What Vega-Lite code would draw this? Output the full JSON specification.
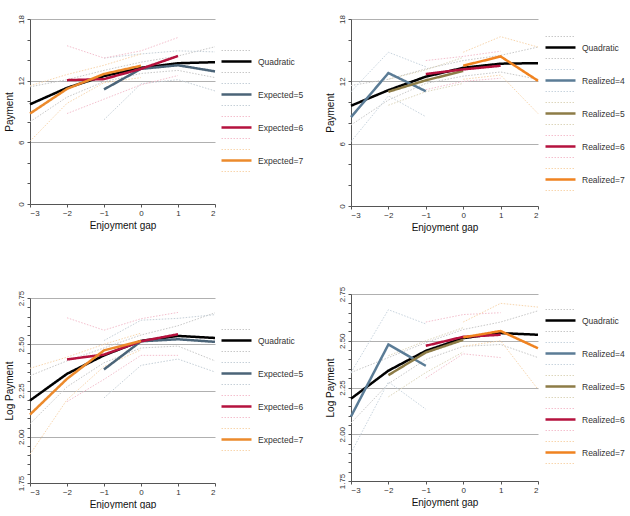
{
  "$schema": "https://vega.github.io/schema/vega-lite/v6.json",
  "background": "white",
  "padding": {"left": 4, "top": 14, "right": 0, "bottom": 0},
  "config": {
    "font": "Liberation Sans",
    "view": {"stroke": null},
    "axis": {"domainColor": "#555555", "tickColor": "#555555", "labelColor": "#333333", "titleColor": "#111111", "titleFontWeight": "normal", "titleFontSize": 10, "labelFontSize": 8, "tickSize": 3, "gridColor": "#b0b0b0", "gridWidth": 1},
    "legend": {"title": null, "orient": "none", "symbolType": "stroke", "symbolSize": 900, "labelFontSize": 8.5, "labelColor": "#333333", "rowPadding": 0, "clipHeight": 11, "labelOffset": 5, "padding": 0}
  },
  "datasets": {
    "d1": [
      {"x": -3, "y": 9.7, "s": "Quadratic"}, {"x": -2, "y": 11.3, "s": "Quadratic"}, {"x": -1, "y": 12.45, "s": "Quadratic"}, {"x": 0, "y": 13.25, "s": "Quadratic"}, {"x": 1, "y": 13.7, "s": "Quadratic"}, {"x": 2, "y": 13.8, "s": "Quadratic"},
      {"x": -3, "y": 11.4, "s": "Quadratic|hi"}, {"x": -2, "y": 12.1, "s": "Quadratic|hi"}, {"x": -1, "y": 13.0, "s": "Quadratic|hi"}, {"x": 0, "y": 13.8, "s": "Quadratic|hi"}, {"x": 1, "y": 14.4, "s": "Quadratic|hi"}, {"x": 2, "y": 15.3, "s": "Quadratic|hi"},
      {"x": -3, "y": 8.0, "s": "Quadratic|lo"}, {"x": -2, "y": 10.4, "s": "Quadratic|lo"}, {"x": -1, "y": 11.9, "s": "Quadratic|lo"}, {"x": 0, "y": 12.7, "s": "Quadratic|lo"}, {"x": 1, "y": 13.0, "s": "Quadratic|lo"}, {"x": 2, "y": 12.3, "s": "Quadratic|lo"},
      {"x": -1, "y": 11.15, "s": "Expected=5"}, {"x": 0, "y": 13.15, "s": "Expected=5"}, {"x": 1, "y": 13.5, "s": "Expected=5"}, {"x": 2, "y": 12.9, "s": "Expected=5"},
      {"x": -1, "y": 14.2, "s": "Expected=5|hi"}, {"x": 0, "y": 14.6, "s": "Expected=5|hi"}, {"x": 1, "y": 14.9, "s": "Expected=5|hi"}, {"x": 2, "y": 14.8, "s": "Expected=5|hi"},
      {"x": -1, "y": 8.2, "s": "Expected=5|lo"}, {"x": 0, "y": 11.7, "s": "Expected=5|lo"}, {"x": 1, "y": 12.1, "s": "Expected=5|lo"}, {"x": 2, "y": 11.0, "s": "Expected=5|lo"},
      {"x": -2, "y": 12.05, "s": "Expected=6"}, {"x": -1, "y": 12.15, "s": "Expected=6"}, {"x": 0, "y": 13.15, "s": "Expected=6"}, {"x": 1, "y": 14.4, "s": "Expected=6"},
      {"x": -2, "y": 15.4, "s": "Expected=6|hi"}, {"x": -1, "y": 14.2, "s": "Expected=6|hi"}, {"x": 0, "y": 14.9, "s": "Expected=6|hi"}, {"x": 1, "y": 16.2, "s": "Expected=6|hi"},
      {"x": -2, "y": 8.8, "s": "Expected=6|lo"}, {"x": -1, "y": 10.2, "s": "Expected=6|lo"}, {"x": 0, "y": 11.6, "s": "Expected=6|lo"}, {"x": 1, "y": 12.5, "s": "Expected=6|lo"},
      {"x": -3, "y": 8.8, "s": "Expected=7"}, {"x": -2, "y": 11.2, "s": "Expected=7"}, {"x": -1, "y": 12.65, "s": "Expected=7"}, {"x": 0, "y": 13.45, "s": "Expected=7"},
      {"x": -3, "y": 11.5, "s": "Expected=7|hi"}, {"x": -2, "y": 12.6, "s": "Expected=7|hi"}, {"x": -1, "y": 13.5, "s": "Expected=7|hi"}, {"x": 0, "y": 14.6, "s": "Expected=7|hi"},
      {"x": -3, "y": 6.1, "s": "Expected=7|lo"}, {"x": -2, "y": 9.8, "s": "Expected=7|lo"}, {"x": -1, "y": 11.8, "s": "Expected=7|lo"}, {"x": 0, "y": 12.3, "s": "Expected=7|lo"}
    ],
    "d2": [
      {"x": -3, "y": 9.65, "s": "Quadratic"}, {"x": -2, "y": 11.15, "s": "Quadratic"}, {"x": -1, "y": 12.45, "s": "Quadratic"}, {"x": 0, "y": 13.3, "s": "Quadratic"}, {"x": 1, "y": 13.7, "s": "Quadratic"}, {"x": 2, "y": 13.75, "s": "Quadratic"},
      {"x": -3, "y": 11.6, "s": "Quadratic|hi"}, {"x": -2, "y": 12.2, "s": "Quadratic|hi"}, {"x": -1, "y": 13.2, "s": "Quadratic|hi"}, {"x": 0, "y": 14.0, "s": "Quadratic|hi"}, {"x": 1, "y": 14.5, "s": "Quadratic|hi"}, {"x": 2, "y": 15.3, "s": "Quadratic|hi"},
      {"x": -3, "y": 7.8, "s": "Quadratic|lo"}, {"x": -2, "y": 10.2, "s": "Quadratic|lo"}, {"x": -1, "y": 11.8, "s": "Quadratic|lo"}, {"x": 0, "y": 12.5, "s": "Quadratic|lo"}, {"x": 1, "y": 12.9, "s": "Quadratic|lo"}, {"x": 2, "y": 12.2, "s": "Quadratic|lo"},
      {"x": -3, "y": 8.55, "s": "Realized=4"}, {"x": -2, "y": 12.8, "s": "Realized=4"}, {"x": -1, "y": 11.05, "s": "Realized=4"},
      {"x": -3, "y": 11.0, "s": "Realized=4|hi"}, {"x": -2, "y": 14.8, "s": "Realized=4|hi"}, {"x": -1, "y": 13.4, "s": "Realized=4|hi"},
      {"x": -3, "y": 6.2, "s": "Realized=4|lo"}, {"x": -2, "y": 10.6, "s": "Realized=4|lo"}, {"x": -1, "y": 8.6, "s": "Realized=4|lo"},
      {"x": -2, "y": 11.0, "s": "Realized=5"}, {"x": -1, "y": 12.1, "s": "Realized=5"}, {"x": 0, "y": 13.0, "s": "Realized=5"},
      {"x": -2, "y": 12.2, "s": "Realized=5|hi"}, {"x": -1, "y": 13.1, "s": "Realized=5|hi"}, {"x": 0, "y": 14.3, "s": "Realized=5|hi"},
      {"x": -2, "y": 9.7, "s": "Realized=5|lo"}, {"x": -1, "y": 11.0, "s": "Realized=5|lo"}, {"x": 0, "y": 11.8, "s": "Realized=5|lo"},
      {"x": -1, "y": 12.7, "s": "Realized=6"}, {"x": 0, "y": 13.15, "s": "Realized=6"}, {"x": 1, "y": 13.5, "s": "Realized=6"},
      {"x": -1, "y": 14.0, "s": "Realized=6|hi"}, {"x": 0, "y": 14.4, "s": "Realized=6|hi"}, {"x": 1, "y": 14.9, "s": "Realized=6|hi"},
      {"x": -1, "y": 11.2, "s": "Realized=6|lo"}, {"x": 0, "y": 12.0, "s": "Realized=6|lo"}, {"x": 1, "y": 12.3, "s": "Realized=6|lo"},
      {"x": 0, "y": 13.5, "s": "Realized=7"}, {"x": 1, "y": 14.4, "s": "Realized=7"}, {"x": 2, "y": 12.05, "s": "Realized=7"},
      {"x": 0, "y": 14.8, "s": "Realized=7|hi"}, {"x": 1, "y": 16.3, "s": "Realized=7|hi"}, {"x": 2, "y": 15.3, "s": "Realized=7|hi"},
      {"x": 0, "y": 12.2, "s": "Realized=7|lo"}, {"x": 1, "y": 12.6, "s": "Realized=7|lo"}, {"x": 2, "y": 8.9, "s": "Realized=7|lo"}
    ],
    "d3": [
      {"x": -3, "y": 2.196, "s": "Quadratic"}, {"x": -2, "y": 2.34, "s": "Quadratic"}, {"x": -1, "y": 2.44, "s": "Quadratic"}, {"x": 0, "y": 2.518, "s": "Quadratic"}, {"x": 1, "y": 2.545, "s": "Quadratic"}, {"x": 2, "y": 2.534, "s": "Quadratic"},
      {"x": -3, "y": 2.33, "s": "Quadratic|hi"}, {"x": -2, "y": 2.41, "s": "Quadratic|hi"}, {"x": -1, "y": 2.48, "s": "Quadratic|hi"}, {"x": 0, "y": 2.55, "s": "Quadratic|hi"}, {"x": 1, "y": 2.6, "s": "Quadratic|hi"}, {"x": 2, "y": 2.67, "s": "Quadratic|hi"},
      {"x": -3, "y": 2.07, "s": "Quadratic|lo"}, {"x": -2, "y": 2.27, "s": "Quadratic|lo"}, {"x": -1, "y": 2.4, "s": "Quadratic|lo"}, {"x": 0, "y": 2.48, "s": "Quadratic|lo"}, {"x": 1, "y": 2.49, "s": "Quadratic|lo"}, {"x": 2, "y": 2.41, "s": "Quadratic|lo"},
      {"x": -1, "y": 2.364, "s": "Expected=5"}, {"x": 0, "y": 2.516, "s": "Expected=5"}, {"x": 1, "y": 2.527, "s": "Expected=5"}, {"x": 2, "y": 2.513, "s": "Expected=5"},
      {"x": -1, "y": 2.52, "s": "Expected=5|hi"}, {"x": 0, "y": 2.63, "s": "Expected=5|hi"}, {"x": 1, "y": 2.64, "s": "Expected=5|hi"}, {"x": 2, "y": 2.66, "s": "Expected=5|hi"},
      {"x": -1, "y": 2.21, "s": "Expected=5|lo"}, {"x": 0, "y": 2.386, "s": "Expected=5|lo"}, {"x": 1, "y": 2.42, "s": "Expected=5|lo"}, {"x": 2, "y": 2.35, "s": "Expected=5|lo"},
      {"x": -2, "y": 2.418, "s": "Expected=6"}, {"x": -1, "y": 2.444, "s": "Expected=6"}, {"x": 0, "y": 2.516, "s": "Expected=6"}, {"x": 1, "y": 2.554, "s": "Expected=6"},
      {"x": -2, "y": 2.643, "s": "Expected=6|hi"}, {"x": -1, "y": 2.576, "s": "Expected=6|hi"}, {"x": 0, "y": 2.638, "s": "Expected=6|hi"}, {"x": 1, "y": 2.672, "s": "Expected=6|hi"},
      {"x": -2, "y": 2.19, "s": "Expected=6|lo"}, {"x": -1, "y": 2.31, "s": "Expected=6|lo"}, {"x": 0, "y": 2.44, "s": "Expected=6|lo"}, {"x": 1, "y": 2.44, "s": "Expected=6|lo"},
      {"x": -3, "y": 2.12, "s": "Expected=7"}, {"x": -2, "y": 2.313, "s": "Expected=7"}, {"x": -1, "y": 2.467, "s": "Expected=7"}, {"x": 0, "y": 2.518, "s": "Expected=7"},
      {"x": -3, "y": 2.37, "s": "Expected=7|hi"}, {"x": -2, "y": 2.43, "s": "Expected=7|hi"}, {"x": -1, "y": 2.5, "s": "Expected=7|hi"}, {"x": 0, "y": 2.56, "s": "Expected=7|hi"},
      {"x": -3, "y": 1.905, "s": "Expected=7|lo"}, {"x": -2, "y": 2.2, "s": "Expected=7|lo"}, {"x": -1, "y": 2.38, "s": "Expected=7|lo"}, {"x": 0, "y": 2.47, "s": "Expected=7|lo"}
    ],
    "d4": [
      {"x": -3, "y": 2.19, "s": "Quadratic"}, {"x": -2, "y": 2.34, "s": "Quadratic"}, {"x": -1, "y": 2.446, "s": "Quadratic"}, {"x": 0, "y": 2.514, "s": "Quadratic"}, {"x": 1, "y": 2.541, "s": "Quadratic"}, {"x": 2, "y": 2.532, "s": "Quadratic"},
      {"x": -3, "y": 2.33, "s": "Quadratic|hi"}, {"x": -2, "y": 2.41, "s": "Quadratic|hi"}, {"x": -1, "y": 2.49, "s": "Quadratic|hi"}, {"x": 0, "y": 2.56, "s": "Quadratic|hi"}, {"x": 1, "y": 2.6, "s": "Quadratic|hi"}, {"x": 2, "y": 2.66, "s": "Quadratic|hi"},
      {"x": -3, "y": 2.06, "s": "Quadratic|lo"}, {"x": -2, "y": 2.27, "s": "Quadratic|lo"}, {"x": -1, "y": 2.4, "s": "Quadratic|lo"}, {"x": 0, "y": 2.47, "s": "Quadratic|lo"}, {"x": 1, "y": 2.48, "s": "Quadratic|lo"}, {"x": 2, "y": 2.41, "s": "Quadratic|lo"},
      {"x": -3, "y": 2.095, "s": "Realized=4"}, {"x": -2, "y": 2.48, "s": "Realized=4"}, {"x": -1, "y": 2.366, "s": "Realized=4"},
      {"x": -3, "y": 2.33, "s": "Realized=4|hi"}, {"x": -2, "y": 2.666, "s": "Realized=4|hi"}, {"x": -1, "y": 2.59, "s": "Realized=4|hi"},
      {"x": -3, "y": 1.9, "s": "Realized=4|lo"}, {"x": -2, "y": 2.28, "s": "Realized=4|lo"}, {"x": -1, "y": 2.134, "s": "Realized=4|lo"},
      {"x": -2, "y": 2.316, "s": "Realized=5"}, {"x": -1, "y": 2.4375, "s": "Realized=5"}, {"x": 0, "y": 2.505, "s": "Realized=5"},
      {"x": -2, "y": 2.42, "s": "Realized=5|hi"}, {"x": -1, "y": 2.5, "s": "Realized=5|hi"}, {"x": 0, "y": 2.57, "s": "Realized=5|hi"},
      {"x": -2, "y": 2.2, "s": "Realized=5|lo"}, {"x": -1, "y": 2.33, "s": "Realized=5|lo"}, {"x": 0, "y": 2.44, "s": "Realized=5|lo"},
      {"x": -1, "y": 2.473, "s": "Realized=6"}, {"x": 0, "y": 2.521, "s": "Realized=6"}, {"x": 1, "y": 2.532, "s": "Realized=6"},
      {"x": -1, "y": 2.6, "s": "Realized=6|hi"}, {"x": 0, "y": 2.64, "s": "Realized=6|hi"}, {"x": 1, "y": 2.65, "s": "Realized=6|hi"},
      {"x": -1, "y": 2.3, "s": "Realized=6|lo"}, {"x": 0, "y": 2.43, "s": "Realized=6|lo"}, {"x": 1, "y": 2.41, "s": "Realized=6|lo"},
      {"x": 0, "y": 2.518, "s": "Realized=7"}, {"x": 1, "y": 2.552, "s": "Realized=7"}, {"x": 2, "y": 2.46, "s": "Realized=7"},
      {"x": 0, "y": 2.6, "s": "Realized=7|hi"}, {"x": 1, "y": 2.7, "s": "Realized=7|hi"}, {"x": 2, "y": 2.68, "s": "Realized=7|hi"},
      {"x": 0, "y": 2.47, "s": "Realized=7|lo"}, {"x": 1, "y": 2.5, "s": "Realized=7|lo"}, {"x": 2, "y": 2.24, "s": "Realized=7|lo"}
    ]
  },
  "hconcat": [
    {
      "bounds": "flush",
      "spacing": 94,
      "resolve": {"scale": {"x": "independent", "y": "independent", "color": "independent", "strokeDash": "independent", "strokeWidth": "independent"}, "legend": {"color": "independent", "strokeDash": "independent", "strokeWidth": "independent"}},
      "vconcat": [
        {
          "data": {"name": "d1"},
          "width": 185, "height": 185,
          "encoding": {
            "x": {"field": "x", "type": "quantitative", "scale": {"domain": [-3, 2], "nice": false, "zero": false}, "axis": {"values": [-3, -2, -1, 0, 1, 2], "title": "Enjoyment gap", "grid": false, "labelPadding": 2, "titlePadding": 3}},
            "y": {"field": "y", "type": "quantitative", "scale": {"domain": [0, 18], "nice": false}, "axis": {"values": [0, 2, 4, 6, 8, 10, 12, 14, 16, 18], "labelExpr": "datum.value % 6 == 0 ? datum.label : ''", "labelAngle": 270, "labelAlign": "center", "labelBaseline": "bottom", "labelPadding": 2, "title": "Payment", "titlePadding": 3, "grid": true, "gridOpacity": {"condition": {"test": "datum.value % 6 == 0 && datum.value > 0", "value": 1}, "value": 0}}},
            "color": {"field": "s", "type": "nominal", "scale": {"domain": ["Quadratic|hi", "Quadratic", "Quadratic|lo", "Expected=5|hi", "Expected=5", "Expected=5|lo", "Expected=6|hi", "Expected=6", "Expected=6|lo", "Expected=7|hi", "Expected=7", "Expected=7|lo"], "range": ["#c8c8c8", "#000000", "#c8c8c8", "#c6d0d8", "#4b6478", "#c6d0d8", "#f4c0ce", "#b5123e", "#f4c0ce", "#f8d6ae", "#ec8a2c", "#f8d6ae"]}, "legend": {"legendX": 190, "legendY": 26, "labelExpr": "indexof(datum.label, '|') >= 0 ? '' : datum.label"}},
            "strokeDash": {"field": "s", "type": "nominal", "scale": {"domain": ["Quadratic|hi", "Quadratic", "Quadratic|lo", "Expected=5|hi", "Expected=5", "Expected=5|lo", "Expected=6|hi", "Expected=6", "Expected=6|lo", "Expected=7|hi", "Expected=7", "Expected=7|lo"], "range": [[1.5, 1.5], [1, 0], [1.5, 1.5], [1.5, 1.5], [1, 0], [1.5, 1.5], [1.5, 1.5], [1, 0], [1.5, 1.5], [1.5, 1.5], [1, 0], [1.5, 1.5]]}},
            "strokeWidth": {"field": "s", "type": "nominal", "scale": {"type": "ordinal", "domain": ["Quadratic|hi", "Quadratic", "Quadratic|lo", "Expected=5|hi", "Expected=5", "Expected=5|lo", "Expected=6|hi", "Expected=6", "Expected=6|lo", "Expected=7|hi", "Expected=7", "Expected=7|lo"], "range": [1, 2.5, 1, 1, 2.5, 1, 1, 2.5, 1, 1, 2.5, 1]}}
          },
          "layer": [
            {"transform": [{"filter": "indexof(datum.s, '|') >= 0"}], "mark": {"type": "line"}},
            {"transform": [{"filter": "indexof(datum.s, '|') < 0"}], "mark": {"type": "line"}}
          ]
        },
        {
          "data": {"name": "d3"},
          "width": 185, "height": 185,
          "encoding": {
            "x": {"field": "x", "type": "quantitative", "scale": {"domain": [-3, 2], "nice": false, "zero": false}, "axis": {"values": [-3, -2, -1, 0, 1, 2], "title": "Enjoyment gap", "grid": false, "labelPadding": 2, "titlePadding": 3}},
            "y": {"field": "y", "type": "quantitative", "scale": {"domain": [1.75, 2.75], "nice": false, "zero": false}, "axis": {"values": [1.75, 1.8, 1.85, 1.9, 1.95, 2.0, 2.05, 2.1, 2.15, 2.2, 2.25, 2.3, 2.35, 2.4, 2.45, 2.5, 2.55, 2.6, 2.65, 2.7, 2.75], "labelExpr": "round(datum.value * 100) % 25 == 0 ? format(datum.value, '.2f') : ''", "labelAngle": 270, "labelAlign": "center", "labelBaseline": "bottom", "labelPadding": 2, "title": "Log Payment", "titlePadding": 3, "grid": true, "gridOpacity": {"condition": {"test": "round(datum.value * 100) % 25 == 0 && datum.value > 1.8", "value": 1}, "value": 0}}},
            "color": {"field": "s", "type": "nominal", "scale": {"domain": ["Quadratic|hi", "Quadratic", "Quadratic|lo", "Expected=5|hi", "Expected=5", "Expected=5|lo", "Expected=6|hi", "Expected=6", "Expected=6|lo", "Expected=7|hi", "Expected=7", "Expected=7|lo"], "range": ["#c8c8c8", "#000000", "#c8c8c8", "#c6d0d8", "#4b6478", "#c6d0d8", "#f4c0ce", "#b5123e", "#f4c0ce", "#f8d6ae", "#ec8a2c", "#f8d6ae"]}, "legend": {"legendX": 190, "legendY": 26, "labelExpr": "indexof(datum.label, '|') >= 0 ? '' : datum.label"}},
            "strokeDash": {"field": "s", "type": "nominal", "scale": {"domain": ["Quadratic|hi", "Quadratic", "Quadratic|lo", "Expected=5|hi", "Expected=5", "Expected=5|lo", "Expected=6|hi", "Expected=6", "Expected=6|lo", "Expected=7|hi", "Expected=7", "Expected=7|lo"], "range": [[1.5, 1.5], [1, 0], [1.5, 1.5], [1.5, 1.5], [1, 0], [1.5, 1.5], [1.5, 1.5], [1, 0], [1.5, 1.5], [1.5, 1.5], [1, 0], [1.5, 1.5]]}},
            "strokeWidth": {"field": "s", "type": "nominal", "scale": {"type": "ordinal", "domain": ["Quadratic|hi", "Quadratic", "Quadratic|lo", "Expected=5|hi", "Expected=5", "Expected=5|lo", "Expected=6|hi", "Expected=6", "Expected=6|lo", "Expected=7|hi", "Expected=7", "Expected=7|lo"], "range": [1, 2.5, 1, 1, 2.5, 1, 1, 2.5, 1, 1, 2.5, 1]}}
          },
          "layer": [
            {"transform": [{"filter": "indexof(datum.s, '|') >= 0"}], "mark": {"type": "line"}},
            {"transform": [{"filter": "indexof(datum.s, '|') < 0"}], "mark": {"type": "line"}}
          ]
        }
      ]
    },
    {
      "bounds": "flush",
      "spacing": 88,
      "resolve": {"scale": {"x": "independent", "y": "independent", "color": "independent", "strokeDash": "independent", "strokeWidth": "independent"}, "legend": {"color": "independent", "strokeDash": "independent", "strokeWidth": "independent"}},
      "vconcat": [
        {
          "data": {"name": "d2"},
          "width": 187, "height": 187,
          "encoding": {
            "x": {"field": "x", "type": "quantitative", "scale": {"domain": [-3, 2], "nice": false, "zero": false}, "axis": {"values": [-3, -2, -1, 0, 1, 2], "title": "Enjoyment gap", "grid": false, "labelPadding": 2, "titlePadding": 3}},
            "y": {"field": "y", "type": "quantitative", "scale": {"domain": [0, 18], "nice": false}, "axis": {"values": [0, 2, 4, 6, 8, 10, 12, 14, 16, 18], "labelExpr": "datum.value % 6 == 0 ? datum.label : ''", "labelAngle": 270, "labelAlign": "center", "labelBaseline": "bottom", "labelPadding": 2, "title": "Payment", "titlePadding": 3, "grid": true, "gridOpacity": {"condition": {"test": "datum.value % 6 == 0 && datum.value > 0", "value": 1}, "value": 0}}},
            "color": {"field": "s", "type": "nominal", "scale": {"domain": ["Quadratic|hi", "Quadratic", "Quadratic|lo", "Realized=4|hi", "Realized=4", "Realized=4|lo", "Realized=5|hi", "Realized=5", "Realized=5|lo", "Realized=6|hi", "Realized=6", "Realized=6|lo", "Realized=7|hi", "Realized=7", "Realized=7|lo"], "range": ["#c8c8c8", "#000000", "#c8c8c8", "#c8d4de", "#5b7c96", "#c8d4de", "#ddd6bc", "#8d7c47", "#ddd6bc", "#f4c0ce", "#b5123e", "#f4c0ce", "#f8d6ae", "#f08320", "#f8d6ae"]}, "legend": {"legendX": 193, "legendY": 12, "labelExpr": "indexof(datum.label, '|') >= 0 ? '' : datum.label"}},
            "strokeDash": {"field": "s", "type": "nominal", "scale": {"domain": ["Quadratic|hi", "Quadratic", "Quadratic|lo", "Realized=4|hi", "Realized=4", "Realized=4|lo", "Realized=5|hi", "Realized=5", "Realized=5|lo", "Realized=6|hi", "Realized=6", "Realized=6|lo", "Realized=7|hi", "Realized=7", "Realized=7|lo"], "range": [[1.5, 1.5], [1, 0], [1.5, 1.5], [1.5, 1.5], [1, 0], [1.5, 1.5], [1.5, 1.5], [1, 0], [1.5, 1.5], [1.5, 1.5], [1, 0], [1.5, 1.5], [1.5, 1.5], [1, 0], [1.5, 1.5]]}},
            "strokeWidth": {"field": "s", "type": "nominal", "scale": {"type": "ordinal", "domain": ["Quadratic|hi", "Quadratic", "Quadratic|lo", "Realized=4|hi", "Realized=4", "Realized=4|lo", "Realized=5|hi", "Realized=5", "Realized=5|lo", "Realized=6|hi", "Realized=6", "Realized=6|lo", "Realized=7|hi", "Realized=7", "Realized=7|lo"], "range": [1, 2.5, 1, 1, 2.5, 1, 1, 2.5, 1, 1, 2.5, 1, 1, 2.5, 1]}}
          },
          "layer": [
            {"transform": [{"filter": "indexof(datum.s, '|') >= 0"}], "mark": {"type": "line"}},
            {"transform": [{"filter": "indexof(datum.s, '|') < 0"}], "mark": {"type": "line"}}
          ]
        },
        {
          "data": {"name": "d4"},
          "width": 187, "height": 187,
          "encoding": {
            "x": {"field": "x", "type": "quantitative", "scale": {"domain": [-3, 2], "nice": false, "zero": false}, "axis": {"values": [-3, -2, -1, 0, 1, 2], "title": "Enjoyment gap", "grid": false, "labelPadding": 2, "titlePadding": 3}},
            "y": {"field": "y", "type": "quantitative", "scale": {"domain": [1.75, 2.75], "nice": false, "zero": false}, "axis": {"values": [1.75, 1.8, 1.85, 1.9, 1.95, 2.0, 2.05, 2.1, 2.15, 2.2, 2.25, 2.3, 2.35, 2.4, 2.45, 2.5, 2.55, 2.6, 2.65, 2.7, 2.75], "labelExpr": "round(datum.value * 100) % 25 == 0 ? format(datum.value, '.2f') : ''", "labelAngle": 270, "labelAlign": "center", "labelBaseline": "bottom", "labelPadding": 2, "title": "Log Payment", "titlePadding": 3, "grid": true, "gridOpacity": {"condition": {"test": "round(datum.value * 100) % 25 == 0 && datum.value > 1.8", "value": 1}, "value": 0}}},
            "color": {"field": "s", "type": "nominal", "scale": {"domain": ["Quadratic|hi", "Quadratic", "Quadratic|lo", "Realized=4|hi", "Realized=4", "Realized=4|lo", "Realized=5|hi", "Realized=5", "Realized=5|lo", "Realized=6|hi", "Realized=6", "Realized=6|lo", "Realized=7|hi", "Realized=7", "Realized=7|lo"], "range": ["#c8c8c8", "#000000", "#c8c8c8", "#c8d4de", "#5b7c96", "#c8d4de", "#ddd6bc", "#8d7c47", "#ddd6bc", "#f4c0ce", "#b5123e", "#f4c0ce", "#f8d6ae", "#f08320", "#f8d6ae"]}, "legend": {"legendX": 193, "legendY": 10, "labelExpr": "indexof(datum.label, '|') >= 0 ? '' : datum.label"}},
            "strokeDash": {"field": "s", "type": "nominal", "scale": {"domain": ["Quadratic|hi", "Quadratic", "Quadratic|lo", "Realized=4|hi", "Realized=4", "Realized=4|lo", "Realized=5|hi", "Realized=5", "Realized=5|lo", "Realized=6|hi", "Realized=6", "Realized=6|lo", "Realized=7|hi", "Realized=7", "Realized=7|lo"], "range": [[1.5, 1.5], [1, 0], [1.5, 1.5], [1.5, 1.5], [1, 0], [1.5, 1.5], [1.5, 1.5], [1, 0], [1.5, 1.5], [1.5, 1.5], [1, 0], [1.5, 1.5], [1.5, 1.5], [1, 0], [1.5, 1.5]]}},
            "strokeWidth": {"field": "s", "type": "nominal", "scale": {"type": "ordinal", "domain": ["Quadratic|hi", "Quadratic", "Quadratic|lo", "Realized=4|hi", "Realized=4", "Realized=4|lo", "Realized=5|hi", "Realized=5", "Realized=5|lo", "Realized=6|hi", "Realized=6", "Realized=6|lo", "Realized=7|hi", "Realized=7", "Realized=7|lo"], "range": [1, 2.5, 1, 1, 2.5, 1, 1, 2.5, 1, 1, 2.5, 1, 1, 2.5, 1]}}
          },
          "layer": [
            {"transform": [{"filter": "indexof(datum.s, '|') >= 0"}], "mark": {"type": "line"}},
            {"transform": [{"filter": "indexof(datum.s, '|') < 0"}], "mark": {"type": "line"}}
          ]
        }
      ]
    }
  ],
  "spacing": 321,
  "bounds": "flush",
  "resolve": {"scale": {"x": "independent", "y": "independent", "color": "independent", "strokeDash": "independent", "strokeWidth": "independent"}, "legend": {"color": "independent", "strokeDash": "independent", "strokeWidth": "independent"}}
}
